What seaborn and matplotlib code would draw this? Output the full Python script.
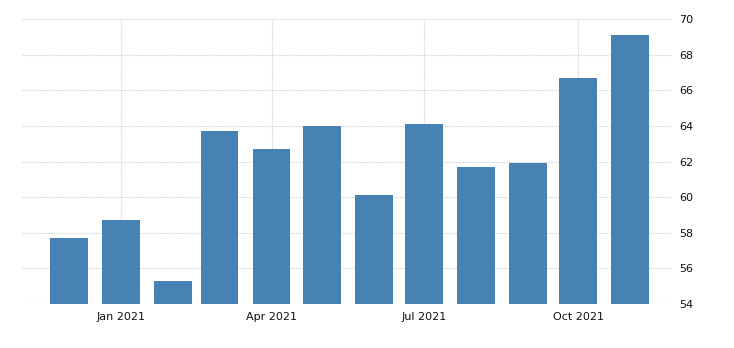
import matplotlib
matplotlib.use("Agg")
import matplotlib.pyplot as plt
import matplotlib.dates as mdates
import seaborn as sns
import pandas as pd
import datetime as dt

months = ["2020-12-01", "2021-01-01", "2021-02-01", "2021-03-01", "2021-04-01", "2021-05-01",
          "2021-06-01", "2021-07-01", "2021-08-01", "2021-09-01", "2021-10-01", "2021-11-01"]
values = [57.7, 58.7, 55.3, 63.7, 62.7, 64.0, 60.1, 64.1, 61.7, 61.9, 66.7, 69.1]
yticks = [54, 56, 58, 60, 62, 64, 66, 68, 70]

sns.set_theme(style="white")
plt.rcParams['font.family'] = ['DejaVu Sans']

df = pd.DataFrame({"date": mdates.date2num(pd.to_datetime(months).to_pydatetime()), "value": values})

fig = plt.figure(figsize=(7.34, 3.48), dpi=100)
ax = fig.add_axes([0.030, 0.1264, 0.8855, 0.8181])

sns.barplot(data=df, x="date", y="value", native_scale=True, color="#4682B4",
            saturation=1, width=0.8, linewidth=0, edgecolor="none", ax=ax, zorder=3)

ax.set_ylim(54, 70)
ax.set_yticks(yticks)
ax.set_xlim(mdates.date2num(dt.datetime(2020, 11, 3)), mdates.date2num(dt.datetime(2021, 11, 26)))
ax.xaxis.set_major_locator(mdates.MonthLocator(bymonth=[1, 4, 7, 10]))
ax.xaxis.set_major_formatter(mdates.DateFormatter('%b %Y'))
ax.yaxis.tick_right()
ax.set_xlabel("")
ax.set_ylabel("")
for s in ax.spines.values():
    s.set_visible(False)
ax.grid(True, axis="both", color="#d0d0d0", linestyle=(0, (1, 1)), linewidth=0.8, zorder=0)
ax.set_axisbelow(True)
ax.tick_params(axis="x", length=3, color="#cccccc", labelsize=8, pad=3, labelcolor="#111111")
ax.tick_params(axis="y", length=0, labelsize=8, pad=5, labelcolor="#111111")

fig.savefig("out.png", dpi=100)
